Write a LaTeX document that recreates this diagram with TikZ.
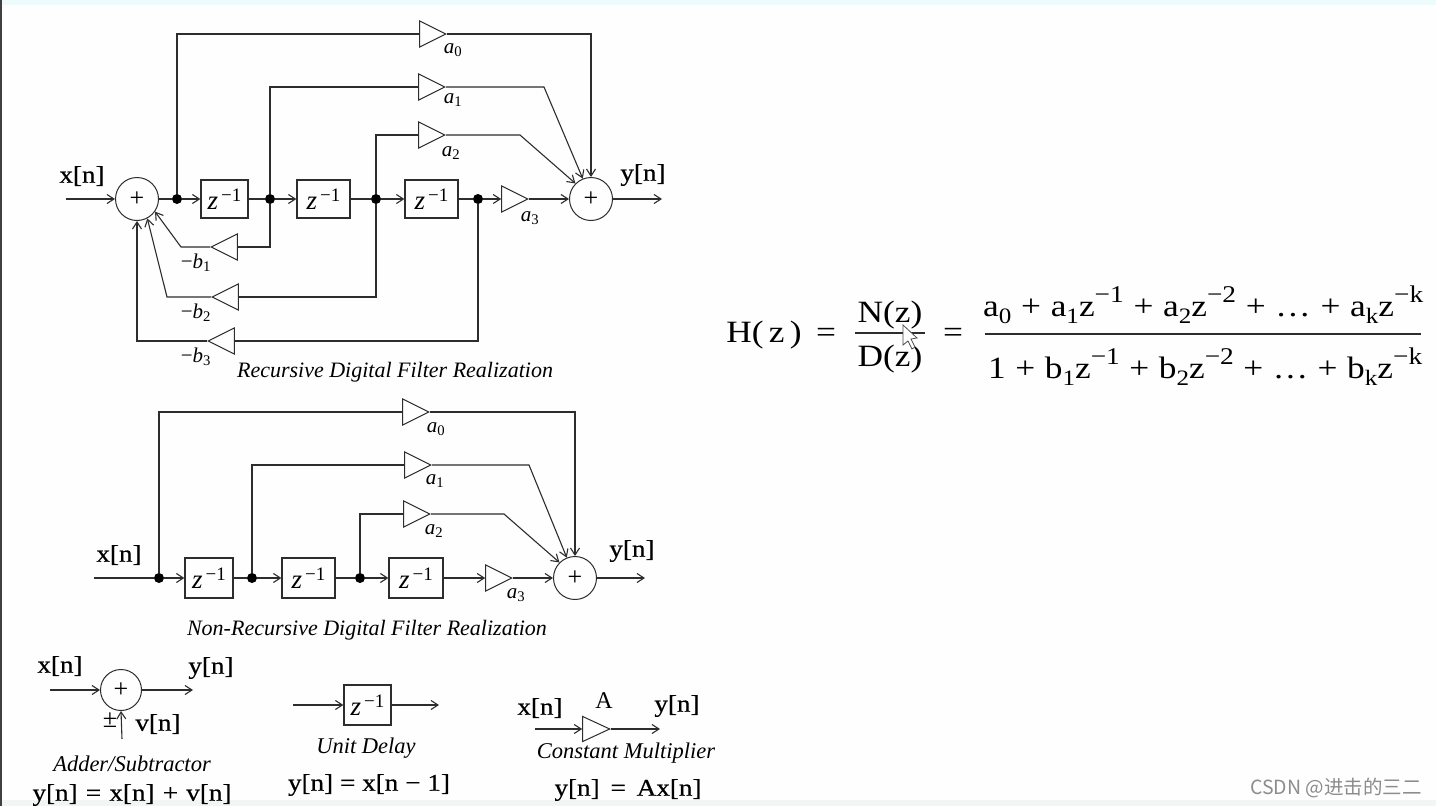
\documentclass[tikz,border=0pt]{standalone}
\usepackage{fontspec}
\setmainfont{Liberation Serif}
\newfontfamily\cjkfont{Noto Sans CJK SC}
\newfontfamily\eqfont[FakeStretch=1.14]{Liberation Serif}
\newfontfamily\sigfont[FakeStretch=1.13,FakeBold=0.5]{Liberation Serif}
\usetikzlibrary{arrows.meta,positioning,shapes.geometric}
\definecolor{inkgray}{RGB}{45,45,45}
\definecolor{topstrip}{RGB}{238,251,253}
\definecolor{lowstrip}{RGB}{241,246,244}
\definecolor{paperwhite}{RGB}{253,254,253}
\definecolor{markgray}{RGB}{140,140,140}
\newcommand{\fsz}[1]{\fontsize{#1}{#1}\selectfont}
\newcommand{\dn}[1]{\raisebox{-7pt}{\fsz{22}#1}}
\newcommand{\up}[1]{\raisebox{14pt}{\fsz{24}#1}}
\newcommand{\coef}[2]{\textit{#1}\textsubscript{#2}}
\newcommand{\zinv}{\fsz{27}\textit{z}\raisebox{8pt}{\fsz{19}\,\textminus1}}

\begin{document}
\begin{tikzpicture}[x=1pt, y=-1pt,
    wire/.style={draw=inkgray, line width=1.1pt},
    flow/.style={wire, -{Straight Barb[length=7pt,width=9pt]}},
    adder/.style={circle, draw=inkgray, line width=1pt, minimum size=43pt, inner sep=0pt, font=\fsz{26}},
    delay/.style={rectangle, draw=inkgray, line width=1.2pt, minimum height=38pt, inner sep=0pt},
    junc/.style={circle, fill=black, minimum size=10pt, inner sep=0pt},
    gainr/.style={isosceles triangle, isosceles triangle stretches, draw=inkgray, line width=1pt,
      minimum width=26pt, minimum height=26pt, inner sep=0pt, anchor=apex},
    gainl/.style={gainr, shape border rotate=180},
    sig/.style={font=\sigfont\fsz{24}, inner sep=0pt},
    coefl/.style={font=\fsz{21}, inner sep=0pt},
    capt/.style={font=\fsz{22}\itshape, inner sep=0pt},
    eqn/.style={font=\eqfont\fsz{31}, inner sep=0pt, anchor=base}]
  \clip (0,0) rectangle (1436,806);
  % scan edges of the screenshot
  \fill[paperwhite] (0,0) rectangle (1436,806);
  \fill[topstrip] (0,0) rectangle (1436,5);
  \fill[lowstrip] (0,800) rectangle (1436,806);
  \fill[black!75] (0,0) rectangle (1.5,806);

  % recursive realization
  \node[adder] (add1) at (137,199) {+};
  \node[adder] (add2) at (591,199) {+};
  \foreach \nm/\px in {d1/177,d2/270,d3/376,d4/478}{
    \node[junc] (\nm) at (\px,199) {};
  }
  \node[delay, minimum width=47pt] (z1) at (224.5,199) {\zinv};
  \node[delay, minimum width=53pt] (z2) at (323.5,199) {\zinv};
  \node[delay, minimum width=53pt] (z3) at (431.5,199) {\zinv};
  \foreach \nm/\px/\py/\txt/\lx/\ly in {g0/447/34/0/453/50, g1/446/87/1/453/100, g2/446/135/2/451/153, g3/529/199/3/530/218}{
    \node[gainr] (\nm) at (\px,\py) {};
    \node[coefl] (l\nm) at (\lx,\ly) {\coef{a}{\txt}};
  }
  \foreach \nm/\px/\py/\txt in {f1/210/247/1, f2/211/297/2, f3/207/341/3}{
    \node[gainl] (\nm) at (\px,\py) {};
    \node[coefl] (l\nm) at (196,{\py+16}) {\textminus\coef{b}{\txt}};
  }
  \coordinate (in1) at (66,199);
  \coordinate (out1) at (662,199);
  \coordinate (k1) at (544,87);
  \coordinate (k2) at (520,135);
  \coordinate (h1) at (181,247);
  \coordinate (h2) at (167,297);
  \coordinate (h3) at (137,341);

  \draw[flow] (in1) -- (add1.west);
  \draw[wire] (add1.east) -- (d1);
  \draw[flow] (d1) -- (z1.west);
  \draw[wire] (z1.east) -- (d2);
  \draw[flow] (d2) -- (z2.west);
  \draw[wire] (z2.east) -- (d3);
  \draw[flow] (d3) -- (z3.west);
  \draw[wire] (z3.east) -- (d4);
  \draw[flow] (d4) -- (g3.lower side);
  \draw[flow] (g3.apex) -- (add2.west);
  \draw[flow] (add2.east) -- (out1);

  \draw[wire] (d1) |- (g0.lower side);
  \draw[wire] (d2) |- (g1.lower side);
  \draw[wire] (d3) |- (g2.lower side);
  \draw[flow] (g0.apex) -| (add2.north);
  \draw[flow] (g1.apex) -- (k1) -- (add2.112);
  \draw[flow] (g2.apex) -- (k2) -- (add2.135);

  \draw[wire] (d2) |- (f1.lower side);
  \draw[wire] (d3) |- (f2.lower side);
  \draw[wire] (d4) |- (f3.lower side);
  \draw[flow] (f1.apex) -- (h1) -- (add1.-35);
  \draw[flow] (f2.apex) -- (h2) -- (add1.-62);
  \draw[flow] (f3.apex) -- (h3) -- (add1.south);

  \node[sig] (xa) at (82,176) {x[n]};
  \node[sig] (ya) at (643,175) {y[n]};
  \node[capt] (capa) at (395,372) {Recursive Digital Filter Realization};

  % non-recursive realization
  \node[adder] (add3) at (575,578) {+};
  \foreach \nm/\px in {e1/159,e2/252,e3/360}{
    \node[junc] (\nm) at (\px,578) {};
  }
  \node[delay, minimum width=48pt, minimum height=40pt] (y1) at (209,578) {\zinv};
  \node[delay, minimum width=53pt, minimum height=40pt] (y2) at (308.5,578) {\zinv};
  \node[delay, minimum width=54pt, minimum height=40pt] (y3) at (416,578) {\zinv};
  \foreach \nm/\px/\py/\txt/\lx/\ly in {n0/430/412/0/436/429, n1/432/465/1/435/481, n2/431/514/2/434/531, n3/513/578/3/516/595}{
    \node[gainr] (\nm) at (\px,\py) {};
    \node[coefl] (l\nm) at (\lx,\ly) {\coef{a}{\txt}};
  }
  \coordinate (in2) at (94,578);
  \coordinate (out2) at (645,578);
  \coordinate (k3) at (529,465);
  \coordinate (k4) at (504,514);

  \draw[wire] (in2) -- (e1);
  \draw[flow] (e1) -- (y1.west);
  \draw[wire] (y1.east) -- (e2);
  \draw[flow] (e2) -- (y2.west);
  \draw[wire] (y2.east) -- (e3);
  \draw[flow] (e3) -- (y3.west);
  \draw[flow] (y3.east) -- (n3.lower side);
  \draw[flow] (n3.apex) -- (add3.west);
  \draw[flow] (add3.east) -- (out2);
  \draw[wire] (e1) |- (n0.lower side);
  \draw[wire] (e2) |- (n1.lower side);
  \draw[wire] (e3) |- (n2.lower side);
  \draw[flow] (n0.apex) -| (add3.north);
  \draw[flow] (n1.apex) -- (k3) -- (add3.112);
  \draw[flow] (n2.apex) -- (k4) -- (add3.135);

  \node[sig] (xb) at (119,555) {x[n]};
  \node[sig] (yb) at (632,551) {y[n]};
  \node[capt] (capb) at (367,630) {Non-Recursive Digital Filter Realization};

  % legend: adder
  \node[adder, minimum size=41pt] (add4) at (121,690) {+};
  \coordinate (in3) at (50,690);
  \coordinate (out3) at (193,690);
  \coordinate (vin) at (122,739);
  \draw[flow] (in3) -- (add4.west);
  \draw[flow] (add4.east) -- (out3);
  \draw[flow] (vin) -- (add4.south);
  \node[sig] (xc) at (60,666) {x[n]};
  \node[sig] (yc) at (211,668) {y[n]};
  \node[sig] (vc) at (158,724) {v[n]};
  \node[sig, font=\fsz{26}] (pm) at (110,720) {\textpm};
  \node[capt, font=\fsz{22.5}\itshape] (capc) at (132,764) {Adder/Subtractor};
  \node[sig] (eqc) at (132,795) {\makebox[199pt][s]{y[n] = x[n] + v[n]}};

  % legend: unit delay
  \node[delay, minimum width=47pt, minimum height=40pt] (z4) at (367.5,705) {\zinv};
  \coordinate (in4) at (293,705);
  \coordinate (out4) at (439,705);
  \draw[flow] (in4) -- (z4.west);
  \draw[flow] (z4.east) -- (out4);
  \node[capt, font=\fsz{22.5}\itshape] (capd) at (366,748) {Unit Delay};
  \node[sig] (eqd) at (369,785) {\makebox[162pt][s]{y[n] = x[n \textminus\ 1]}};

  % legend: multiplier
  \node[gainr, minimum width=25pt, minimum height=27pt] (g4) at (611,729) {};
  \coordinate (in5) at (535,729);
  \coordinate (out5) at (660,729);
  \draw[flow] (in5) -- (g4.lower side);
  \draw[flow] (g4.apex) -- (out5);
  \node[sig] (xe) at (540,708) {x[n]};
  \node[sig, font=\fsz{24}] (ae) at (604,701) {A};
  \node[sig] (ye) at (677,706) {y[n]};
  \node[capt, font=\fsz{22.5}\itshape] (cape) at (626,753) {Constant Multiplier};
  \node[sig] (eqe) at (628,790) {\makebox[147pt][s]{y[n] = Ax[n]}};

  % transfer function
  \node[eqn] (hz) at (764,342) {H(\,z\,)};
  \node[eqn] (eq1) at (826,342) {=};
  \node[eqn] (nz) at (890,322) {N(z)};
  \node[eqn] (dz) at (890,366) {D(z)};
  \node[eqn] (eq2) at (953,342) {=};
  \draw[line width=1.6pt, inkgray] (855,333) -- (925,333);
  \draw[line width=2pt, inkgray] (985,334) -- (1421,334);
  \node[eqn, anchor=base west] (num) at (983,316) {\makebox[440pt][s]{a\dn{0} + a\dn{1}z\up{\textminus1} + a\dn{2}z\up{\textminus2} + \dots\ + a\dn{k}z\up{\textminus k}}};
  \node[eqn, anchor=base west] (den) at (988,378) {\makebox[434pt][s]{1 + b\dn{1}z\up{\textminus1} + b\dn{2}z\up{\textminus2} + \dots\ + b\dn{k}z\up{\textminus k}}};

  % pointer over the first fraction
  \draw[fill=white, draw=black!70, line width=0.8pt] (903,325) -- (903,345) -- (908,341) -- (912,349) -- (915,347) -- (911,339) -- (917,338) -- cycle;

  % screenshot watermark
  \node[font=\cjkfont\fsz{19.5}, text=markgray, inner sep=0pt, anchor=base east] (mark) at (1422,794) {CSDN @进击的三二};
\end{tikzpicture}
\end{document}
